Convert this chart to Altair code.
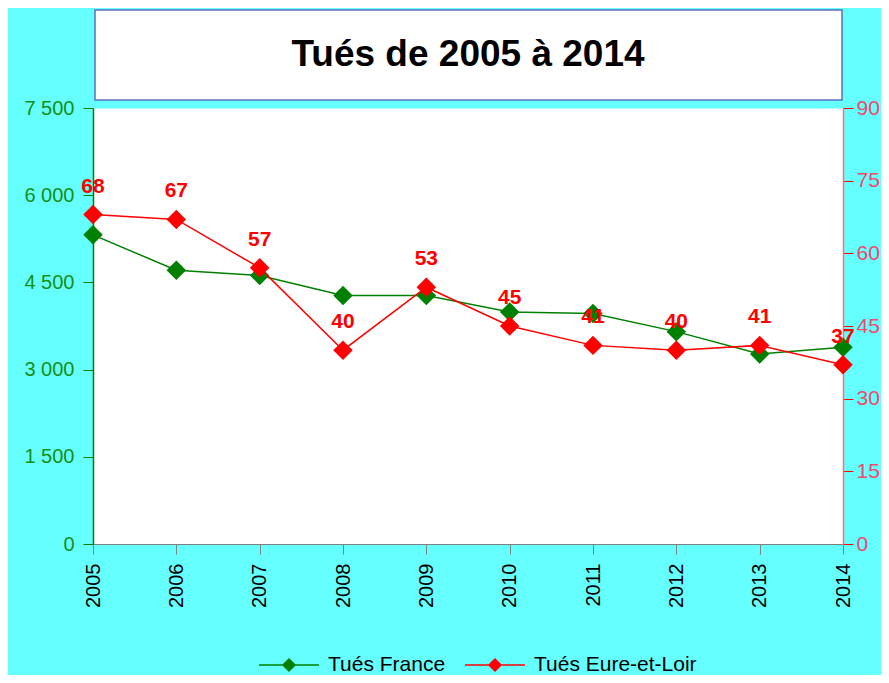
import altair as alt
import pandas as pd

TITLE = "Tués de 2005 à 2014"
years = ["2005", "2006", "2007", "2008", "2009", "2010", "2011", "2012", "2013", "2014"]
france = [5318, 4709, 4620, 4275, 4273, 3992, 3963, 3653, 3268, 3384]
eure = [68, 67, 57, 40, 53, 45, 41, 40, 41, 37]
series_names = ["Tués France", "Tués Eure-et-Loir"]
series_colors = ["#008000", "#FF0000"]
left_ticks = [0, 1500, 3000, 4500, 6000, 7500]
right_ticks = [0, 15, 30, 45, 60, 75, 90]

df = pd.DataFrame({"year": years, "france": france, "eure": eure})

FONT = "Liberation Sans"
W, H = 750, 436

x_enc = alt.X(
    "year:O",
    scale=alt.Scale(type="point", padding=0),
    axis=alt.Axis(
        title=None, labelAngle=-90, labelFontSize=20, labelColor="black",
        domainColor="#808080", tickColor="#808080", tickSize=10, labelPadding=9,
        labelFont=FONT, grid=False,
    ),
)

color_scale = alt.Scale(domain=series_names, range=series_colors)
legend_path = "M-1,0H1M-0.2,0L0,-0.2L0.2,0L0,0.2Z"
legend = alt.Legend(
    title=None, orient="none", legendX=165, legendY=526, direction="horizontal",
    symbolType=legend_path, symbolSize=3600, symbolStrokeWidth=1.5,
    labelFontSize=21, labelFont=FONT, labelColor="black", labelOffset=8,
    labelLimit=400, columnPadding=16,
)


def stroke_enc():
    return alt.Stroke("serie:N", scale=color_scale, legend=legend)


def fill_enc():
    return alt.Fill("serie:N", scale=color_scale, legend=legend)


base = alt.Chart(df)

y_left = alt.Y(
    "france:Q",
    scale=alt.Scale(domain=[0, 7500]),
    axis=alt.Axis(
        title=None, values=left_ticks, orient="left", grid=False,
        labelExpr="replace(format(datum.value, ','), ',', ' ')",
        labelColor="#149014", labelFontSize=20, labelFont=FONT,
        domainColor="#008000", tickColor="#008000", tickSize=10, labelPadding=9,
        domainWidth=1.5,
    ),
)

fr = base.transform_calculate(serie="'Tués France'")
fr_line = fr.mark_line(strokeWidth=1.5).encode(x=x_enc, y=y_left, stroke=stroke_enc())
fr_pts = fr.mark_point(shape="diamond", filled=True, size=380, opacity=1).encode(
    x=x_enc, y=y_left, fill=fill_enc(),
)
left_layer = alt.layer(fr_line, fr_pts)

y_right = alt.Y(
    "eure:Q",
    scale=alt.Scale(domain=[0, 90]),
    axis=alt.Axis(
        title=None, values=right_ticks, orient="right", grid=False,
        labelColor="#EE4A6C", labelFontSize=21, labelFont=FONT,
        domainColor="#FF7070", tickColor="#FF0000", tickSize=10, labelPadding=3,
        domainWidth=1.5,
    ),
)

eu = base.transform_calculate(serie="'Tués Eure-et-Loir'")
eu_line = eu.mark_line(strokeWidth=1.5).encode(x=x_enc, y=y_right, stroke=stroke_enc())
eu_pts = eu.mark_point(shape="diamond", filled=True, size=380, opacity=1).encode(
    x=x_enc, y=y_right, fill=fill_enc(),
)
eu_txt = eu.mark_text(
    dy=-28, fontSize=21, fontWeight="bold", font=FONT, color="#FF0000"
).encode(x=x_enc, y=y_right, text="eure:Q")
right_layer = alt.layer(eu_line, eu_pts, eu_txt)

title_box = alt.Chart(alt.Data(values=[{}])).mark_rect(
    fill="white", stroke="#5B6FBF", strokeWidth=1.5
).encode(x=alt.value(2), x2=alt.value(749), y=alt.value(-98), y2=alt.value(-8))
title_txt = alt.Chart(alt.Data(values=[{}])).mark_text(
    fontSize=37, fontWeight="bold", font=FONT, color="black", baseline="middle", align="center"
).encode(x=alt.value(375), y=alt.value(-53), text=alt.value(TITLE))

chart = alt.layer(title_box, title_txt, left_layer, right_layer).resolve_scale(
    y="independent"
).properties(
    width=W, height=H,
    autosize=alt.AutoSizeParams(type="none"),
    padding={"left": 85, "top": 100, "right": 38, "bottom": 131},
    background="#66FFFF",
).configure_view(fill="white", stroke="transparent")

chart.save("out.html", embed_options={"renderer": "svg", "actions": False})
